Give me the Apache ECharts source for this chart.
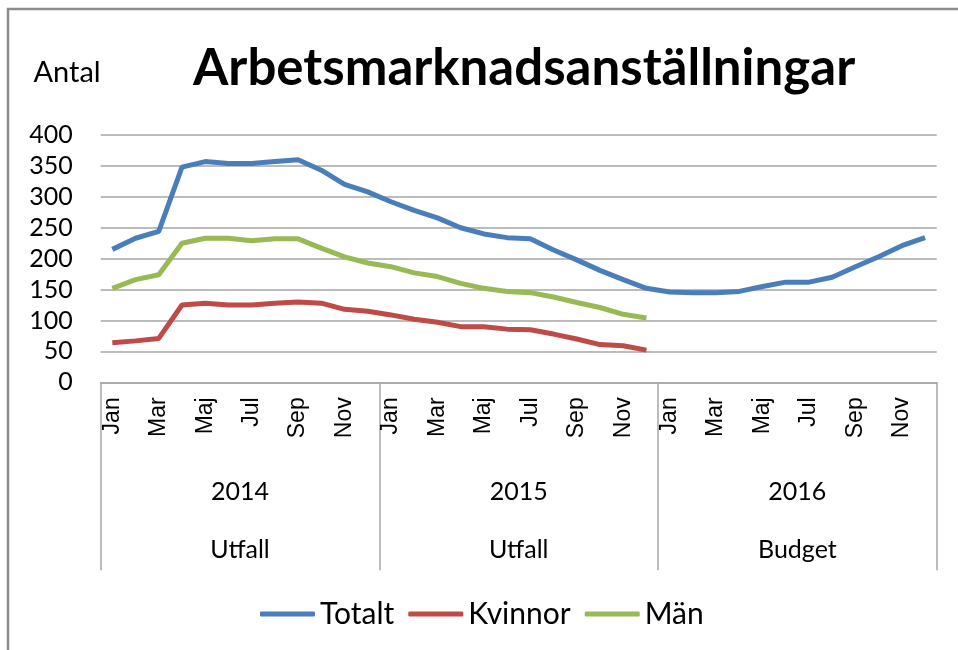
<!DOCTYPE html>
<html>
<head>
<meta charset="utf-8">
<script src="https://cdn.jsdelivr.net/npm/echarts@6/dist/echarts.min.js"></script>
<style>
  html, body { margin: 0; padding: 0; background: #fff; }
  #chart { width: 958px; height: 650px; }
</style>
</head>
<body>
<div id="chart"></div>
<script>
// manader, tre ar
var months = ["Jan", "Feb", "Mar", "Apr", "Maj", "Jun", "Jul", "Aug", "Sep", "Okt", "Nov", "Dec"];
var years = ["2014", "2015", "2016"];
var kinds = ["Utfall", "Utfall", "Budget"];
var yTicks = [0, 50, 100, 150, 200, 250, 300, 350, 400];

var totalt = [215, 233, 244, 348, 357, 354, 354, 357, 360, 343, 320, 308,
              292, 278, 266, 250, 240, 234, 232, 214, 198, 181, 166, 152,
              146, 145, 145, 147, 155, 162, 162, 170, 187, 203, 221, 234];
var kvinnor = [64, 67, 71, 125, 128, 125, 125, 128, 130, 128, 118, 115,
               109, 102, 97, 90, 90, 86, 85, 78, 70, 61, 59, 52,
               null, null, null, null, null, null, null, null, null, null, null, null];
var man = [152, 166, 174, 225, 233, 233, 229, 232, 232, 217, 203, 193,
           187, 177, 171, 160, 152, 147, 145, 138, 129, 121, 110, 104,
           null, null, null, null, null, null, null, null, null, null, null, null];

var categories = [];
years.forEach(function(y) {
	months.forEach(function(m) {
		categories.push(y + " " + m);
	});
});

var chart = echarts.init(document.getElementById("chart"));
var gray = "#a6a6a6";

var option = {
	animation: false,
	title: {
		text: "Arbetsmarknadsanställningar",
		left: 188,
		top: 38,
		textStyle: {
			fontFamily: "Lato",
			fontWeight: "bold",
			fontSize: 51,
			color: "#000"
		}
	},
	legend: {
		left: 255,
		top: 594,
		icon: "roundRect",
		itemWidth: 55,
		itemHeight: 5,
		itemGap: 14,
		textStyle: {
			fontFamily: "Lato",
			fontSize: 30,
			color: "#000"
		},
		data: ["Totalt", "Kvinnor", "Män"]
	},
	grid: {
		left: 100.7,
		right: 21.3,
		top: 135,
		bottom: 267.7
	},
	xAxis: [{
		type: "category",
		data: categories,
		boundaryGap: true,
		axisLine: { lineStyle: { color: gray, width: 1.5 } },
		axisTick: { show: false },
		axisLabel: {
			interval: 1,
			rotate: 90,
			margin: 15,
			fontFamily: "Liberation Sans",
			fontSize: 23,
			color: "#000",
			formatter: function(v) { return v.split(" ")[1]; }
		},
		splitLine: { show: false }
	}, {
		type: "category",
		position: "bottom",
		data: years,
		axisLine: { show: false },
		axisTick: { show: true, length: 188, lineStyle: { color: gray, width: 1.5 } },
		axisLabel: {
			margin: 81,
			fontFamily: "Lato",
			fontSize: 25,
			lineHeight: 58,
			color: "#000",
			formatter: function(v, i) { return v + "\n" + kinds[i]; }
		},
		splitLine: { show: false }
	}],
	yAxis: {
		type: "value",
		min: yTicks[0],
		max: yTicks[yTicks.length - 1],
		interval: 50,
		name: "Antal",
		nameLocation: "end",
		nameGap: 62,
		nameTextStyle: {
			fontFamily: "Lato",
			fontSize: 29,
			color: "#000",
			align: "right",
			verticalAlign: "middle"
		},
		axisLine: { show: false },
		axisTick: { show: false },
		axisLabel: {
			margin: 28,
			fontFamily: "Lato",
			fontSize: 25,
			color: "#000"
		},
		splitLine: { lineStyle: { color: gray, width: 1.5 } }
	},
	graphic: [{
		type: "rect",
		shape: { x: 8, y: 9, width: 1000, height: 700 },
		style: { fill: null, stroke: "#8c8c8c", lineWidth: 2.5 },
		silent: true
	}],
	series: [{
		name: "Totalt",
		type: "line",
		data: totalt,
		symbol: "none",
		lineStyle: { color: "#4a7ebb", width: 5 },
		itemStyle: { color: "#4a7ebb" }
	}, {
		name: "Kvinnor",
		type: "line",
		data: kvinnor,
		symbol: "none",
		lineStyle: { color: "#be4b48", width: 5 },
		itemStyle: { color: "#be4b48" }
	}, {
		name: "Män",
		type: "line",
		data: man,
		symbol: "none",
		lineStyle: { color: "#98b954", width: 5 },
		itemStyle: { color: "#98b954" }
	}]
};

chart.setOption(option);
</script>
</body>
</html>
